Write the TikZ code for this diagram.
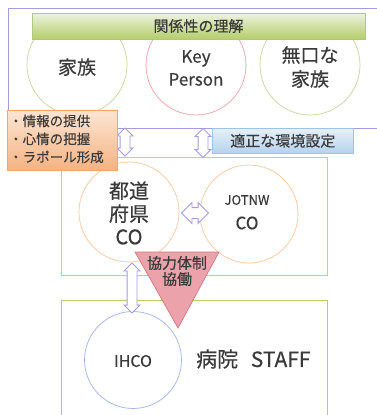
\documentclass[tikz,border=0pt]{standalone}
\usepackage{fontspec}
\setmainfont{Noto Sans CJK JP}[FakeBold=0.4]
\usetikzlibrary{shapes.arrows}
\definecolor{txt}{HTML}{3A3A3A}
\definecolor{lav}{HTML}{A59BE0}
\definecolor{grnb}{HTML}{C3D69B}
\definecolor{grnf}{HTML}{B6CE6A}
\definecolor{grnd}{HTML}{9BBB59}
\definecolor{pinkc}{HTML}{E8A3A3}
\definecolor{orl}{HTML}{F8C79E}
\definecolor{ord}{HTML}{F3A56B}
\definecolor{bluec}{HTML}{9DC3E6}
\definecolor{ihco}{HTML}{9DB5E8}
\definecolor{trif}{HTML}{EBA2AA}
\definecolor{trid}{HTML}{D27885}
\tikzset{
  circ/.style={circle, minimum size=100pt, inner sep=0pt, fill=white, line width=0.7pt, text=txt, align=center},
  barrow/.style={double arrow, draw=lav, fill=white, line width=0.8pt, inner sep=0pt, double arrow head extend=3pt},
  boxline/.style={line width=0.8pt},
  lbl/.style={text=txt, inner sep=0pt}
}
\begin{document}
\begin{tikzpicture}[x=1pt,y=-1pt]
\useasboundingbox (0,0) rectangle (376,415);
\fill[white] (0,0) rectangle (376,415);
% frames
\draw[boxline, lav] (380,8) -- (8,8) -- (8,128) -- (380,128);
\draw[boxline, ord!80] (61,157) rectangle (327,275);
\draw[boxline, grnf] (61,420) -- (61,300) -- (327,300) -- (327,420);
% top circles
\node[circ, draw=grnb] (fam) at (77,65) {};
\node[circ, draw=pinkc] (key) at (196,65) {};
\node[circ, draw=grnb] (mut) at (310,65) {};
\node[lbl, font=\fontsize{19}{22}\selectfont] at (77,67) {家族};
\node[lbl, font=\fontsize{17}{23}\selectfont, align=center] at (196,68) {Key\\Person};
\node[lbl, font=\fontsize{19}{24}\selectfont, align=center] at (310,67) {無口な\\家族};
% banner
\node[draw=grnd!80, line width=0.6pt, top color=grnb!30!white, bottom color=grnf, minimum width=333pt, minimum height=26pt, inner sep=0pt, text=txt, font=\fontsize{15}{17}\selectfont] (ban) at (198.5,26) {関係性の理解};
% middle circles
\node[circ, draw=orl] (pref) at (129,212) {};
\node[lbl, font=\fontsize{20}{23}\selectfont, align=center] at (129,213) {都道\\府県\\CO};
\node[circ, draw=orl, minimum size=98pt] (jot) at (249,214) {};
\node[lbl, font=\fontsize{13}{15}\selectfont] at (247,200) {JOTNW};
\node[lbl, font=\fontsize{17}{19}\selectfont] at (247,223) {CO};
% IHCO
\node[circ, draw=ihco, minimum size=97pt] (ih) at (133,360) {};
\node[lbl, font=\fontsize{16}{18}\selectfont] at (133,361) {IHCO};
\node[lbl, font=\fontsize{21}{24}\selectfont, anchor=west] (staff) at (196,359) {病院\hspace{0.6em}STAFF};
% arrows
\node[barrow, minimum height=28pt, minimum width=15pt, shape border rotate=90, inner xsep=4.5pt, inner ysep=0pt] (a1) at (125,142) {};
\node[barrow, minimum height=29pt, minimum width=15pt, shape border rotate=90, inner xsep=4.5pt, inner ysep=0pt] (a2) at (203,143) {};
\node[barrow, minimum height=27pt, minimum width=20pt, inner ysep=5pt, inner xsep=0pt, double arrow head extend=5pt] (a3) at (195,213) {};
\node[barrow, minimum height=50pt, minimum width=15pt, shape border rotate=90, inner xsep=4.5pt, inner ysep=0pt] (a4) at (132,288) {};
% callouts
\node[draw=ord, line width=0.6pt, top color=orl!45!white, bottom color=ord!85, minimum width=110pt, minimum height=60pt, inner sep=0pt, anchor=north west] (info) at (7,110) {};
\node[lbl, font=\fontsize{13.5}{18}\selectfont, align=left, anchor=west] at (9,139) {・情報の提供\\・心情の把握\\・ラポール形成};
\node[draw=bluec, line width=0.6pt, top color=bluec!25!white, bottom color=bluec!75, minimum width=141pt, minimum height=25pt, inner sep=0pt, anchor=north west, text=txt, font=\fontsize{15}{17}\selectfont] (env) at (212,128) {適正な環境設定};
% triangle
\coordinate (tl) at (135,252);
\coordinate (tr) at (219,252);
\coordinate (tb) at (178,328);
\filldraw[fill=trif, draw=trid, line width=0.7pt] (tl) -- (tr) -- (tb) -- cycle;
\node[lbl, font=\fontsize{15}{16}\selectfont, align=center] (tri) at (177,271) {協力体制\\協働};
\end{tikzpicture}
\end{document}
